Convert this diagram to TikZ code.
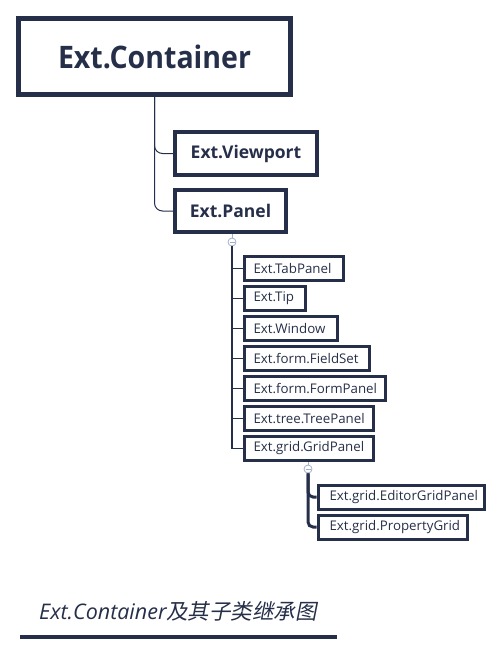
\documentclass[tikz,border=0pt]{standalone}
\usepackage{fontspec}
\setmainfont{Open Sans}
\newfontfamily\headf{Open Sans}[FakeStretch=0.92]
\newfontfamily\cjkf{Noto Sans CJK SC}[FakeSlant=0.2]
\definecolor{navy}{HTML}{262F49}
\definecolor{togc}{HTML}{A3AFC8}
\tikzset{
  rootbox/.style={draw=navy, line width=5pt, minimum width=272pt, minimum height=76pt, inner sep=0pt,
    text=navy, font=\headf\bfseries\fontsize{31}{36}\selectfont},
  lvlbox/.style={draw=navy, line width=4pt, minimum height=42pt, inner sep=0pt,
    text=navy, font=\bfseries\fontsize{17.5}{20}\selectfont},
  leafbox/.style={draw=navy, line width=3pt, minimum height=24pt, inner ysep=0pt, inner xsep=9.5pt,
    align=left, anchor=west, text=navy, font=\fontsize{13.3}{15}\selectfont},
  subbox/.style={leafbox, inner xsep=11.5pt},
  toggle/.style={circle, draw=togc, fill=white, line width=0.8pt, minimum size=8pt, inner sep=0pt},
  thinlink/.style={draw=navy, line width=1pt, rounded corners=8pt},
  midlink/.style={draw=navy, line width=1.5pt},
  thicklink/.style={draw=navy, line width=3pt, rounded corners=5pt}
}
\begin{document}
\begin{tikzpicture}[x=1pt,y=-1pt]
\useasboundingbox (0,0) rectangle (501,654);

\node[rootbox] (root) at (154.5,56.5) {Ext.Container};
\node[lvlbox, minimum width=142pt, minimum height=43pt] (vp) at (246,153.5) {Ext.Viewport};
\node[lvlbox, minimum width=111pt] (panel) at (230.5,211) {Ext.Panel};

\draw[thinlink] (root.south) |- (vp.west);
\draw[thinlink] (root.south) |- (panel.west);

\node[toggle] (t1) at (232,242) {};
\node[leafbox, text width=80pt]  (tab)  at (242.5,268.5) {Ext.TabPanel};
\node[leafbox, text width=42pt]  (tip)  at (242.5,298.5) {Ext.Tip};
\node[leafbox, text width=74pt]  (win)  at (242.5,328.5) {Ext.Window};
\node[leafbox, text width=106pt] (fs)   at (242.5,358.5) {Ext.form.FieldSet};
\node[leafbox, text width=122pt] (fp)   at (242.5,388.5) {Ext.form.FormPanel};
\node[leafbox, text width=110pt] (tp)   at (242.5,418.5) {Ext.tree.TreePanel};
\node[leafbox, text width=110pt] (gp)   at (242.5,448.5) {Ext.grid.GridPanel};

\draw[draw=togc, line width=0.8pt] (panel.south -| t1.north) -- (t1.north);
\foreach \c in {tab,tip,win,fs,fp,tp,gp} {
  \draw[midlink] (t1.south) |- (\c.west);
}
\draw[draw=togc, line width=0.8pt] ([xshift=-2.5pt]t1.center) -- ([xshift=2.5pt]t1.center);

\node[toggle] (t2) at (308,469) {};
\node[subbox, text width=143pt] (ed) at (316.5,497) {Ext.grid.EditorGridPanel};
\node[subbox, text width=126pt] (pg) at (316.5,527) {Ext.grid.PropertyGrid};
\draw[draw=togc, line width=0.8pt] (gp.south -| t2.north) -- (t2.north);
\draw[thicklink] (t2.south) |- (ed.west);
\draw[thicklink] (t2.south) |- (pg.west);
\draw[draw=togc, line width=0.8pt] ([xshift=-2.5pt]t2.center) -- ([xshift=2.5pt]t2.center);

\node[anchor=base west, inner sep=0pt, text=navy] (cap) at (39,619)
  {\fontsize{21.5}{24}\selectfont\itshape Ext.Container{\cjkf 及其子类继承图}};
\coordinate (ula) at (20,637);
\coordinate (ulb) at (337,637);
\draw[navy, line width=4pt] (ula) -- (ulb);
\end{tikzpicture}
\end{document}
